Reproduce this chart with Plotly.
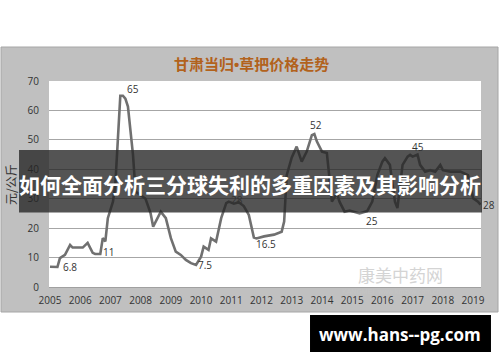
import plotly.graph_objects as go

# ---- data ----
months = ["2005-01", "2005-04", "2005-05", "2005-07", "2005-09", "2005-10", "2006-02", "2006-04",
          "2006-06", "2006-07", "2006-09", "2006-10", "2006-11", "2006-12", "2007-02", "2007-03",
          "2007-04", "2007-05", "2007-06", "2007-07", "2007-08", "2007-10", "2007-11", "2008-01",
          "2008-03", "2008-05", "2008-06", "2008-09", "2008-11", "2009-01", "2009-03", "2009-05",
          "2009-07", "2009-09", "2009-11", "2010-01", "2010-02", "2010-04", "2010-05", "2010-07",
          "2010-09", "2010-11", "2010-12", "2011-02", "2011-04", "2011-06", "2011-07", "2011-08",
          "2011-10", "2011-11", "2012-02", "2012-06", "2012-09", "2012-10", "2012-11", "2013-01",
          "2013-03", "2013-05", "2013-07", "2013-09", "2013-10", "2013-11", "2014-01", "2014-03",
          "2014-05", "2014-07", "2014-08", "2014-10", "2014-12", "2015-04", "2015-07", "2015-09",
          "2015-11", "2016-01", "2016-02", "2016-04", "2016-06", "2016-07", "2016-09", "2016-11",
          "2016-12", "2017-01", "2017-03", "2017-04", "2017-06", "2017-08", "2017-10", "2017-12",
          "2018-01", "2018-04", "2018-08", "2018-11", "2019-01", "2019-03", "2019-04"]
prices = [6.9, 6.8, 9.8, 10.9, 14.3, 13.4, 13.4, 15.0,
          11.6, 11.2, 11.2, 16.6, 15.5, 23.4, 29.0, 34.6,
          50.0, 65.0, 65.0, 64.0, 61.3, 45.0, 32.4, 31.3,
          30.0, 25.0, 20.5, 25.6, 23.4, 16.6, 12.0, 10.9,
          9.2, 8.1, 7.5, 10.3, 13.7, 12.6, 16.5, 15.4,
          23.4, 28.5, 29.0, 28.3, 28.8, 27.5, 26.0, 24.5,
          16.8, 16.5, 17.2, 17.8, 18.8, 22.2, 38.0, 44.0,
          47.7, 42.6, 46.0, 51.6, 52.0, 49.4, 46.0, 45.5,
          29.0, 31.8, 29.0, 25.6, 26.0, 25.0, 25.8, 29.0,
          38.0, 42.6, 43.8, 41.5, 29.0, 26.8, 41.5, 44.3,
          44.9, 44.3, 45.0, 41.5, 39.2, 39.7, 39.2, 41.5,
          39.7, 39.2, 39.2, 38.0, 30.2, 29.0, 28.0]

label_months = ["2005-04", "2006-09", "2007-07", "2009-11", "2010-12", "2011-11",
                "2013-10", "2015-04", "2017-03", "2019-04"]
label_texts = ["6.8", "11", "65", "7.5", "28", "16.5", "52", "25", "45", "28"]
label_values = [6.8, 11.2, 65.0, 7.5, 29.0, 16.5, 52.0, 25.0, 45.0, 28.0]
label_shift_x = [13, 8, 8, 9, 8, 10, 2, 12, 0, 8]
label_shift_y = [0, 2, 7, 0, 2, -6, 9, -8, 8, 0]

year_ticks = [f"{y}-01-01" for y in range(2005, 2020)]
year_labels = [str(y) for y in range(2005, 2020)]

title_text = "甘肃当归•草把价格走势"
y_title = "元/公斤"
overlay_text = "如何全面分析三分球失利的多重因素及其影响分析"
site_text = "www.hans--pg.com"

fig = go.Figure()
fig.add_trace(go.Scatter(
    x=months, y=prices, mode="lines",
    line=dict(color="#707070", width=2.6),
    hoverinfo="skip", showlegend=False,
))

shapes = [
    # grey chart frame
    dict(type="rect", xref="paper", yref="paper", x0=-0.1111, x1=1.0394, y0=-0.1214, y1=1.165,
         fillcolor="#c0c0c0", line=dict(color="#a6a6a6", width=1), layer="below"),
    # white plot area
    dict(type="rect", xref="paper", yref="paper", x0=0, x1=1, y0=0, y1=1,
         fillcolor="#ffffff", line=dict(width=0), layer="below"),
    # dark translucent banner
    dict(type="rect", xref="paper", yref="paper", x0=-0.0694, x1=1.0023, y0=0.3617, y1=0.665,
         fillcolor="rgba(36,36,36,0.78)", line=dict(width=0), layer="above"),
    # black site box
    dict(type="rect", xref="paper", yref="paper", x0=0.6042, x1=1.0231, y0=-0.3155, y1=-0.1359,
         fillcolor="#000000", line=dict(width=0), layer="above"),
]

annotations = []
for m, t, v, dx, dy in zip(label_months, label_texts, label_values, label_shift_x, label_shift_y):
    annotations.append(dict(x=m, y=v, xref="x", yref="y", text=t, showarrow=False,
                            xshift=dx, yshift=dy,
                            font=dict(family="Open Sans, Liberation Sans", size=10, color="#333333")))

annotations += [
    dict(text="<b>" + title_text + "</b>", xref="paper", yref="paper", x=0.4676, y=1.0777, showarrow=False,
         xanchor="center", yanchor="middle",
         font=dict(family="Liberation Sans, Noto Sans CJK SC", size=15, color="#b2621c")),
    dict(text=y_title, xref="paper", yref="paper", x=-0.0903, y=0.5, showarrow=False,
         textangle=-90, xanchor="center", yanchor="middle",
         font=dict(family="Noto Sans CJK SC", size=12, color="#333333")),
    dict(text="康美中药网", xref="paper", yref="paper", x=0.8125, y=0.0583, showarrow=False,
         xanchor="center", yanchor="middle",
         font=dict(family="Noto Sans CJK SC", size=17, color="#d4d4d4")),
    dict(text="KANGMEI  www.kmzyw.com.cn", xref="paper", yref="paper", x=0.7928, y=-0.0243,
         showarrow=False, xanchor="center", yanchor="middle",
         font=dict(family="Liberation Sans", size=7, color="#c4c4c4")),
    dict(text="<b>" + overlay_text + "</b>", xref="paper", yref="paper", x=0.4653, y=0.5, showarrow=False,
         xanchor="center", yanchor="middle",
         font=dict(family="Noto Sans CJK SC", size=21, color="#ffffff")),
    dict(text="<b>" + site_text + "</b>", xref="paper", yref="paper", x=0.8125, y=-0.2330, showarrow=False,
         xanchor="center", yanchor="middle",
         font=dict(family="Open Sans", size=17, color="#ffffff")),
]

fig.update_layout(
    width=500, height=362,
    margin=dict(l=49, r=19, t=81, b=75),
    paper_bgcolor="#ffffff", plot_bgcolor="#ffffff",
    shapes=shapes, annotations=annotations,
    showlegend=False,
)
fig.update_xaxes(
    type="date", range=["2004-12-20", "2019-04-07"],
    tickvals=year_ticks, ticktext=year_labels,
    showgrid=False, zeroline=False, showline=True, linecolor="#a0a0a0", linewidth=1,
    ticks="", ticklabelstandoff=4,
    tickfont=dict(family="Open Sans, Liberation Sans", size=10, color="#333333"),
)
fig.update_yaxes(
    range=[0, 70], dtick=10, tick0=0,
    showgrid=True, gridcolor="#a6a6a6", gridwidth=1, zeroline=False,
    showline=False, ticks="", ticklabelstandoff=9,
    tickfont=dict(family="Open Sans, Liberation Sans", size=10, color="#333333"),
)

fig.write_html("out.html")
